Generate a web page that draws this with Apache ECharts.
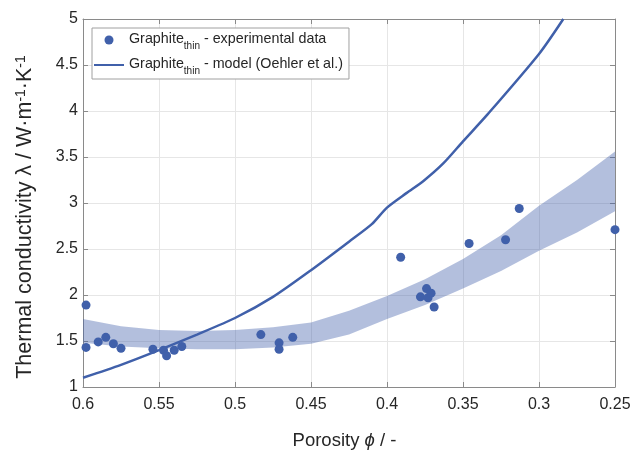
<!DOCTYPE html>
<html>
<head>
<meta charset="utf-8">
<script src="https://cdn.jsdelivr.net/npm/echarts@6/dist/echarts.min.js"></script>
<style>
  html, body { margin: 0; padding: 0; background: #fff; }
  #main { width: 636px; height: 451px; }
</style>
</head>
<body>
<div id="main"></div>
<script>
// NOTE - Data

var expPorosity = [0.598, 0.598, 0.590, 0.585, 0.580, 0.575, 0.554, 0.547, 0.545, 0.540, 0.535,
                   0.483, 0.471, 0.471, 0.462, 0.391, 0.378, 0.374, 0.373, 0.371, 0.369,
                   0.346, 0.322, 0.313, 0.250];
var expLambda   = [1.89, 1.43, 1.49, 1.54, 1.47, 1.42, 1.41, 1.40, 1.34, 1.40, 1.44,
                   1.57, 1.48, 1.41, 1.54, 2.41, 1.98, 2.07, 1.97, 2.02, 1.87,
                   2.56, 2.60, 2.94, 2.71];

var modelPorosity = [0.60, 0.575, 0.55, 0.525, 0.50, 0.475, 0.45, 0.425, 0.41, 0.40, 0.387, 0.376, 0.363, 0.35, 0.334, 0.30, 0.284];
var modelLambda   = [1.10, 1.24, 1.40, 1.57, 1.75, 1.98, 2.27, 2.58, 2.77, 2.95, 3.11, 3.24, 3.43, 3.67, 3.96, 4.62, 5.00];

var bandPorosity = [0.60, 0.575, 0.55, 0.525, 0.50, 0.475, 0.45, 0.425, 0.40, 0.375, 0.35, 0.325, 0.30, 0.275, 0.25];
var bandLower    = [1.48, 1.44, 1.42, 1.41, 1.41, 1.43, 1.47, 1.57, 1.74, 1.89, 2.07, 2.26, 2.48, 2.68, 2.91];
var bandUpper    = [1.74, 1.66, 1.62, 1.61, 1.62, 1.65, 1.70, 1.83, 1.99, 2.17, 2.39, 2.65, 2.97, 3.25, 3.56];

var xMin = 0.25, xMax = 0.6, xStep = 0.05;
var yMin = 1, yMax = 5, yStep = 0.5;

var expName = 'Graphite_thin - experimental data';
var modelName = 'Graphite_thin - model (Oehler et al.)';

// NOTE - Styles

var blue = '#4060aa';
var axisGray = '#8a8a8a';
var gridGray = '#e6e6e6';
var textDark = '#262626';
var font = 'Liberation Sans, Arial, sans-serif';

function pairs(xs, ys) {
  return xs.map(function (x, i) { return [x, ys[i]]; });
}

var myChart = echarts.init(document.getElementById('main'));

var boxAxis = {
  axisLine: { show: true, lineStyle: { color: axisGray, width: 1 } },
  axisTick: { show: true, inside: true, length: 5, lineStyle: { color: axisGray } },
  axisLabel: { show: false },
  splitLine: { show: false }
};

// band is drawn as one polygon: upper edge left->right, lower edge back
function renderBand(params, api) {
  if (params.dataIndex !== 0) return null;
  var top = bandPorosity.map(function (x, i) { return api.coord([x, bandUpper[i]]); });
  var bottom = bandPorosity.map(function (x, i) { return api.coord([x, bandLower[i]]); }).reverse();
  return {
    type: 'polygon',
    shape: { points: top.concat(bottom) },
    style: { fill: blue, opacity: 0.4 }
  };
}

var option = {
  animation: false,
  backgroundColor: '#fff',
  grid: { left: 83, right: 21, top: 19, bottom: 64, containLabel: false, outerBoundsMode: 'none' },
  legend: {
    left: 92,
    top: 28,
    orient: 'vertical',
    data: [
      { name: expName },
      { name: modelName, itemStyle: { opacity: 0 } }
    ],
    itemWidth: 30,
    itemHeight: 9,
    itemGap: 6,
    padding: [4, 6, 3, 1],
    borderColor: '#a0a0a0',
    borderWidth: 1,
    borderRadius: 0,
    backgroundColor: '#fff',
    formatter: function (name) {
      var parts = name.split('_thin');
      return '{a|' + parts[0] + '}{s|thin}{a|' + parts[1] + '}';
    },
    textStyle: {
      color: textDark,
      fontFamily: font,
      rich: {
        a: { fontSize: 14.3, lineHeight: 16, verticalAlign: 'top', fontFamily: font, color: textDark },
        s: { fontSize: 10, lineHeight: 10, verticalAlign: 'top', padding: [9, 0, 0, 0], fontFamily: font, color: textDark }
      }
    }
  },
  xAxis: [
    {
      type: 'value',
      inverse: true,
      min: xMin,
      max: xMax,
      interval: xStep,
      position: 'bottom',
      name: '{a|Porosity }{i|ϕ}{a| / -}',
      nameLocation: 'middle',
      nameGap: 44,
      nameTextStyle: {
        padding: [0, 9, 0, 0],
        rich: {
          a: { fontSize: 18.5, fontFamily: font, color: textDark },
          i: { fontSize: 18.5, fontFamily: font, fontStyle: 'italic', color: textDark }
        }
      },
      axisLine: { show: true, lineStyle: { color: axisGray, width: 1 } },
      axisTick: { show: true, inside: true, length: 5, lineStyle: { color: axisGray } },
      axisLabel: { margin: 10, fontSize: 16, fontFamily: font, color: textDark },
      splitLine: { show: true, lineStyle: { color: gridGray, width: 1 } }
    },
    Object.assign({ type: 'value', inverse: true, min: xMin, max: xMax, interval: xStep, position: 'top' }, boxAxis)
  ],
  yAxis: [
    {
      type: 'value',
      min: yMin,
      max: yMax,
      interval: yStep,
      position: 'left',
      name: '{a|Thermal conductivity λ / W·m}{s|-1}{a|·K}{s|-1}',
      nameLocation: 'middle',
      nameGap: 46,
      nameTextStyle: {
        padding: [0, 28, 0, 0],
        rich: {
          a: { fontSize: 21.5, lineHeight: 23, verticalAlign: 'top', fontFamily: font, color: textDark },
          s: { fontSize: 14, lineHeight: 14, verticalAlign: 'top', fontFamily: font, color: textDark }
        }
      },
      axisLine: { show: true, lineStyle: { color: axisGray, width: 1 } },
      axisTick: { show: true, inside: true, length: 5, lineStyle: { color: axisGray } },
      axisLabel: { margin: 5, fontSize: 16, fontFamily: font, color: textDark },
      splitLine: { show: true, lineStyle: { color: gridGray, width: 1 } }
    },
    Object.assign({ type: 'value', min: yMin, max: yMax, interval: yStep, position: 'right' }, boxAxis)
  ],
  series: [
    {
      name: 'band',
      type: 'custom',
      silent: true,
      renderItem: renderBand,
      data: bandPorosity.map(function (x, i) { return [x, bandLower[i], bandUpper[i]]; }),
      encode: { x: 0, y: [1, 2] },
      z: 1
    },
    {
      name: modelName,
      type: 'line',
      smooth: 0.25,
      symbol: 'none',
      clip: true,
      color: blue,
      lineStyle: { color: blue, width: 2.5 },
      data: pairs(modelPorosity, modelLambda),
      z: 3
    },
    {
      name: expName,
      type: 'scatter',
      symbol: 'circle',
      symbolSize: 9,
      color: blue,
      itemStyle: { color: blue, opacity: 1 },
      data: pairs(expPorosity, expLambda),
      z: 4
    }
  ]
};

myChart.setOption(option);
</script>
</body>
</html>
